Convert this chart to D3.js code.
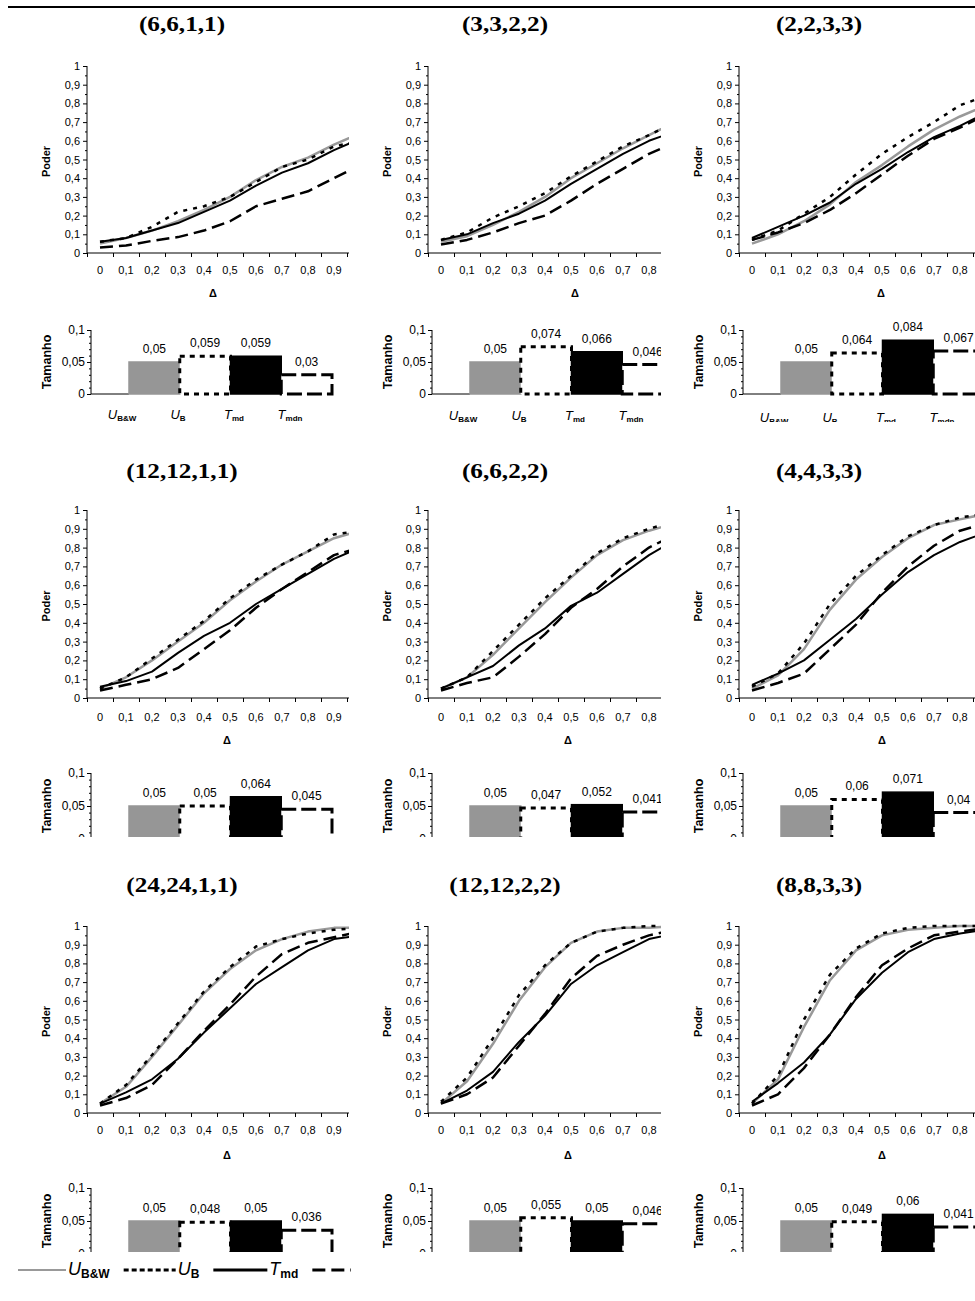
<!DOCTYPE html>
<html>
<head>
<meta charset="utf-8">
<script src="https://cdn.jsdelivr.net/npm/d3@7"></script>
<style>
  body { margin: 0; background: #fff; }
  svg { display: block; font-family: "Liberation Sans", Arial, sans-serif; }
</style>
</head>
<body>
<script>
// Datos
const panelTitles = ["(6,6,1,1)", "(3,3,2,2)", "(2,2,3,3)", "(12,12,1,1)", "(6,6,2,2)", "(4,4,3,3)", "(24,24,1,1)", "(12,12,2,2)", "(8,8,3,3)"];
const deltas = [0, 0.1, 0.2, 0.3, 0.4, 0.5, 0.6, 0.7, 0.8, 0.9, 1];
const deltaLabels = ["0", "0,1", "0,2", "0,3", "0,4", "0,5", "0,6", "0,7", "0,8", "0,9", "1"];
const seriesMain = ["U", "U", "T", "T"];
const seriesSub = ["B&W", "B", "md", "mdn"];

const powerUBW = [
  [0.05, 0.08, 0.12, 0.17, 0.23, 0.3, 0.39, 0.46, 0.51, 0.58, 0.64],
  [0.06, 0.09, 0.15, 0.22, 0.3, 0.4, 0.48, 0.56, 0.63, 0.7],
  [0.05, 0.1, 0.17, 0.26, 0.38, 0.47, 0.57, 0.66, 0.73, 0.79],
  [0.05, 0.11, 0.2, 0.3, 0.4, 0.52, 0.62, 0.71, 0.78, 0.85, 0.89],
  [0.05, 0.11, 0.23, 0.37, 0.51, 0.64, 0.76, 0.84, 0.89, 0.93],
  [0.05, 0.12, 0.26, 0.47, 0.63, 0.75, 0.85, 0.92, 0.95, 0.98],
  [0.05, 0.14, 0.3, 0.47, 0.64, 0.77, 0.87, 0.93, 0.97, 0.99, 0.99],
  [0.05, 0.17, 0.37, 0.6, 0.78, 0.91, 0.97, 0.99, 0.99, 1],
  [0.05, 0.18, 0.46, 0.71, 0.87, 0.95, 0.98, 0.99, 1, 1],
];
const powerUB = [
  [0.06, 0.08, 0.14, 0.22, 0.25, 0.3, 0.38, 0.46, 0.5, 0.57, 0.6],
  [0.07, 0.11, 0.19, 0.25, 0.32, 0.41, 0.49, 0.57, 0.63, 0.7],
  [0.07, 0.12, 0.21, 0.3, 0.42, 0.53, 0.62, 0.7, 0.79, 0.84],
  [0.05, 0.11, 0.21, 0.31, 0.41, 0.53, 0.63, 0.71, 0.78, 0.87, 0.89],
  [0.05, 0.11, 0.25, 0.39, 0.53, 0.65, 0.77, 0.85, 0.9, 0.94],
  [0.06, 0.13, 0.29, 0.5, 0.65, 0.76, 0.86, 0.92, 0.96, 0.98],
  [0.05, 0.15, 0.31, 0.48, 0.65, 0.78, 0.89, 0.93, 0.96, 0.98, 0.99],
  [0.06, 0.19, 0.4, 0.63, 0.79, 0.91, 0.97, 0.99, 1, 1],
  [0.05, 0.2, 0.5, 0.74, 0.88, 0.96, 0.99, 1, 1, 1],
];
const powerTmd = [
  [0.06, 0.08, 0.12, 0.16, 0.22, 0.28, 0.36, 0.43, 0.48, 0.55, 0.61],
  [0.07, 0.1, 0.16, 0.21, 0.28, 0.37, 0.45, 0.53, 0.6, 0.65],
  [0.08, 0.14, 0.2, 0.27, 0.37, 0.45, 0.54, 0.62, 0.68, 0.75],
  [0.06, 0.09, 0.14, 0.24, 0.33, 0.4, 0.5, 0.58, 0.66, 0.74, 0.8],
  [0.05, 0.11, 0.17, 0.28, 0.37, 0.49, 0.56, 0.66, 0.76, 0.84],
  [0.07, 0.13, 0.2, 0.31, 0.42, 0.55, 0.67, 0.76, 0.83, 0.88],
  [0.05, 0.11, 0.18, 0.29, 0.43, 0.56, 0.69, 0.78, 0.87, 0.93, 0.95],
  [0.05, 0.12, 0.22, 0.38, 0.52, 0.69, 0.79, 0.86, 0.93, 0.96],
  [0.06, 0.16, 0.27, 0.42, 0.61, 0.75, 0.86, 0.93, 0.96, 0.98],
];
const powerTmdn = [
  [0.03, 0.04, 0.065, 0.085, 0.12, 0.17, 0.25, 0.29, 0.33, 0.4, 0.47],
  [0.045, 0.07, 0.11, 0.16, 0.2, 0.28, 0.37, 0.45, 0.53, 0.59],
  [0.07, 0.11, 0.16, 0.23, 0.32, 0.42, 0.52, 0.61, 0.67, 0.74],
  [0.04, 0.07, 0.1, 0.16, 0.26, 0.36, 0.48, 0.58, 0.67, 0.76, 0.8],
  [0.04, 0.08, 0.11, 0.22, 0.34, 0.48, 0.58, 0.7, 0.8, 0.87],
  [0.04, 0.08, 0.13, 0.26, 0.39, 0.56, 0.7, 0.81, 0.89, 0.93],
  [0.04, 0.08, 0.15, 0.29, 0.44, 0.58, 0.73, 0.85, 0.91, 0.94, 0.97],
  [0.05, 0.1, 0.19, 0.36, 0.53, 0.72, 0.84, 0.9, 0.95, 0.98],
  [0.04, 0.1, 0.24, 0.42, 0.62, 0.79, 0.88, 0.95, 0.97, 0.99],
];
// Tamanho (nivel real) de cada prueba
const sizeValues = [
  [0.05, 0.059, 0.059, 0.03],
  [0.05, 0.074, 0.066, 0.046],
  [0.05, 0.064, 0.084, 0.067],
  [0.05, 0.05, 0.064, 0.045],
  [0.05, 0.047, 0.052, 0.041],
  [0.05, 0.06, 0.071, 0.04],
  [0.05, 0.048, 0.05, 0.036],
  [0.05, 0.055, 0.05, 0.046],
  [0.05, 0.049, 0.06, 0.041],
];

// Estilos
const lineStyle = [
  { stroke: "#999", width: 2.5, dash: null },
  { stroke: "#000", width: 2.5, dash: "4,6" },
  { stroke: "#000", width: 2, dash: null },
  { stroke: "#000", width: 2.5, dash: "13,6" },
];
const barStyle = [
  { fill: "#969696", stroke: "#969696", dash: null },
  { fill: "#fff", stroke: "#000", dash: "5,5" },
  { fill: "#000", stroke: "#000", dash: null },
  { fill: "#fff", stroke: "#000", dash: "15,5" },
];

// Posiciones de las filas y columnas del mosaico
const rows = [
  { title: 31, top: 66, bottom: 253, tickY: 274, deltaY: 297, barTop: 330, barZero: 394, catY: 419, clipTop: 9, clipBottom: [426, 424, 422] },
  { title: 478, top: 510, bottom: 698, tickY: 721, deltaY: 744, barTop: 773, barZero: 839, catY: null, clipTop: 440, clipBottom: [837, 837, 837] },
  { title: 892, top: 926, bottom: 1113, tickY: 1134, deltaY: 1159, barTop: 1188, barZero: 1254, catY: null, clipTop: 860, clipBottom: [1252, 1252, 1252] },
];
const cols = [
  { axis: 87, left: 0, right: 349, center: 182, deltaX: [213, 227, 227], catDy: 0 },
  { axis: 428, left: 349, right: 661, center: 505, deltaX: [575, 568, 568], catDy: 1 },
  { axis: 739, left: 661, right: 975, center: 819, deltaX: [881, 882, 882], catDy: 3 },
];

const fmt = (d) => String(+d.toFixed(3)).replace(".", ",");
const sans = '"Liberation Sans", Arial, sans-serif';

const svg = d3.select("body").append("svg").attr("width", 975).attr("height", 1301);
svg.append("rect").attr("width", 975).attr("height", 1301).attr("fill", "#fff");

svg.append("line").attr("x1", 8).attr("x2", 975).attr("y1", 7).attr("y2", 7)
  .attr("stroke", "#000").attr("stroke-width", 2);

// Etiqueta con subíndice (U_B&W, T_md ...)
const subLabel = (sel, i, size, subSize, dy) => {
  sel.append("tspan").attr("font-style", "italic").attr("font-size", size).text(seriesMain[i]);
  sel.append("tspan").attr("font-weight", "bold").attr("font-size", subSize).attr("dy", dy).text(seriesSub[i]);
};

const cleanAxis = (g) => {
  g.select(".domain").remove();
  g.selectAll("line").attr("stroke", "#000");
};

panelTitles.forEach((title, i) => {
  const ri = Math.floor(i / 3);
  const ci = i % 3;
  const r = rows[ri];
  const c = cols[ci];

  svg.append("clipPath").attr("id", "clip" + i)
    .append("rect")
    .attr("x", c.left).attr("y", r.clipTop)
    .attr("width", c.right - c.left).attr("height", r.clipBottom[ci] - r.clipTop);

  const g = svg.append("g").attr("clip-path", `url(#clip${i})`);

  // Título
  svg.append("text")
    .attr("transform", `translate(${c.center},${r.title}) scale(1.2,1)`)
    .attr("text-anchor", "middle")
    .attr("font-family", '"Liberation Serif", "Times New Roman", serif')
    .attr("font-weight", "bold")
    .attr("font-size", 21)
    .text(title);

  // ---- Gráfico de poder ----
  const x = d3.scaleLinear().domain([-0.05, 0.95]).range([c.axis, c.axis + 260]);
  const y = d3.scaleLinear().domain([0, 1]).range([r.bottom, r.top]);

  g.append("g").attr("transform", `translate(${c.axis},0)`)
    .call(d3.axisLeft(y).tickValues(d3.range(0.05, 1, 0.1)).tickSize(2).tickFormat(""))
    .call(cleanAxis);
  g.append("g").attr("transform", `translate(${c.axis},0)`)
    .call(d3.axisLeft(y).tickValues(d3.range(0, 1.01, 0.1)).tickSize(4).tickPadding(3).tickFormat(fmt))
    .call(cleanAxis)
    .call((a) => a.selectAll("text").attr("font-family", sans).attr("font-size", 11).attr("fill", "#000"));
  g.append("line").attr("x1", c.axis).attr("x2", c.axis).attr("y1", y(0)).attr("y2", y(1)).attr("stroke", "#000");

  g.append("g").attr("transform", `translate(0,${r.bottom})`)
    .call(d3.axisBottom(x).tickValues(d3.range(-0.05, 1.2, 0.1)).tickSize(4).tickFormat(""))
    .call(cleanAxis);
  g.append("line").attr("x1", c.axis).attr("x2", c.right).attr("y1", r.bottom).attr("y2", r.bottom).attr("stroke", "#000");

  // sólo las etiquetas que caben en el recorte
  const visibles = deltas.filter((d) => x(d) + 8 <= c.right);
  g.selectAll("text.xlab")
    .data(visibles)
    .enter()
    .append("text")
    .attr("class", "xlab")
    .attr("x", (d) => x(d))
    .attr("y", r.tickY)
    .attr("text-anchor", "middle")
    .attr("font-size", 11)
    .text((d, j) => deltaLabels[j]);

  g.append("text")
    .attr("x", c.deltaX[ri]).attr("y", r.deltaY)
    .attr("text-anchor", "middle").attr("font-weight", "bold").attr("font-size", 11)
    .text("Δ");

  g.append("text")
    .attr("transform", `translate(${c.axis - 37},${(r.top + r.bottom) / 2 + 2}) rotate(-90)`)
    .attr("text-anchor", "middle").attr("font-weight", "bold").attr("font-size", 11)
    .text("Poder");

  const line = d3.line().x((d, j) => x(deltas[j])).y((d) => y(d));
  [powerUBW[i], powerUB[i], powerTmd[i], powerTmdn[i]].forEach((serie, k) => {
    g.append("path")
      .datum(serie)
      .attr("d", line)
      .attr("fill", "none")
      .attr("stroke", lineStyle[k].stroke)
      .attr("stroke-width", lineStyle[k].width)
      .attr("stroke-dasharray", lineStyle[k].dash)
      .attr("stroke-linejoin", "round");
  });

  // ---- Gráfico de tamanho ----
  const bx = c.axis + 4;
  const xb = d3.scaleBand().domain(seriesSub).range([bx + 38, bx + 241]);
  const xl = d3.scaleBand().domain(seriesSub).range([bx + 3, bx + 227]);
  const yb = d3.scaleLinear().domain([0, 0.1]).range([r.barZero, r.barTop]);

  g.append("g").attr("transform", `translate(${bx},0)`)
    .call(d3.axisLeft(yb).tickValues(d3.range(0, 0.1, 0.01)).tickSize(2).tickFormat(""))
    .call(cleanAxis);
  g.append("g").attr("transform", `translate(${bx},0)`)
    .call(d3.axisLeft(yb).tickValues([0, 0.05, 0.1]).tickSize(4).tickPadding(2).tickFormat(fmt))
    .call(cleanAxis)
    .call((a) => a.selectAll("text").attr("font-family", sans).attr("font-size", 12).attr("fill", "#000"));
  g.append("line").attr("x1", bx).attr("x2", bx).attr("y1", yb(0)).attr("y2", yb(0.1)).attr("stroke", "#000");
  g.append("line").attr("x1", bx).attr("x2", xb(seriesSub[0])).attr("y1", yb(0)).attr("y2", yb(0)).attr("stroke", "#000");

  g.append("text")
    .attr("transform", `translate(${bx - 40},${(r.barTop + r.barZero) / 2}) rotate(-90)`)
    .attr("text-anchor", "middle").attr("font-weight", "bold").attr("font-size", 12.5)
    .text("Tamanho");

  g.selectAll("rect.bar")
    .data(sizeValues[i])
    .enter()
    .append("rect")
    .attr("class", "bar")
    .attr("x", (d, k) => xb(seriesSub[k]))
    .attr("width", xb.bandwidth())
    .attr("y", (d) => yb(d))
    .attr("height", (d) => yb(0) - yb(d))
    .attr("fill", (d, k) => barStyle[k].fill)
    .attr("stroke", (d, k) => barStyle[k].stroke)
    .attr("stroke-width", (d, k) => (barStyle[k].dash ? 3 : 1.5))
    .attr("stroke-dasharray", (d, k) => barStyle[k].dash);

  g.selectAll("text.val")
    .data(sizeValues[i])
    .enter()
    .append("text")
    .attr("class", "val")
    .attr("x", (d, k) => xb(seriesSub[k]) + xb.bandwidth() / 2)
    .attr("y", (d) => yb(d) - 9)
    .attr("text-anchor", "middle")
    .attr("font-size", 12)
    .text((d) => fmt(d));

  // las categorías sólo se ven en la primera fila (el resto queda recortado)
  if (r.catY) {
    seriesSub.forEach((s, k) => {
      g.append("text")
        .attr("x", xl(s) + xl.bandwidth() / 2)
        .attr("y", r.catY + c.catDy)
        .attr("text-anchor", "middle")
        .call((t) => subLabel(t, k, 13, 8, 2));
    });
  }
});

// ---- Leyenda ----
svg.append("clipPath").attr("id", "clipLeg").append("rect").attr("x", 0).attr("y", 1255).attr("width", 351).attr("height", 40);
const leg = svg.append("g").attr("clip-path", "url(#clipLeg)");
let lx = 18;
const legLen = [48, 52, 54, 54];
seriesSub.forEach((s, k) => {
  leg.append("line")
    .attr("x1", lx).attr("x2", lx + legLen[k]).attr("y1", 1270).attr("y2", 1270)
    .attr("stroke", lineStyle[k].stroke)
    .attr("stroke-width", k === 0 ? 2 : 3)
    .attr("stroke-dasharray", k === 1 ? "5,3" : lineStyle[k].dash);
  if (k < 3) {
    const t = leg.append("text").attr("x", lx + legLen[k] + 2).attr("y", 1275).call((t) => subLabel(t, k, 18, 12, 3));
    lx += legLen[k] + 2 + t.node().getComputedTextLength() + 14;
  }
});
</script>
</body>
</html>
